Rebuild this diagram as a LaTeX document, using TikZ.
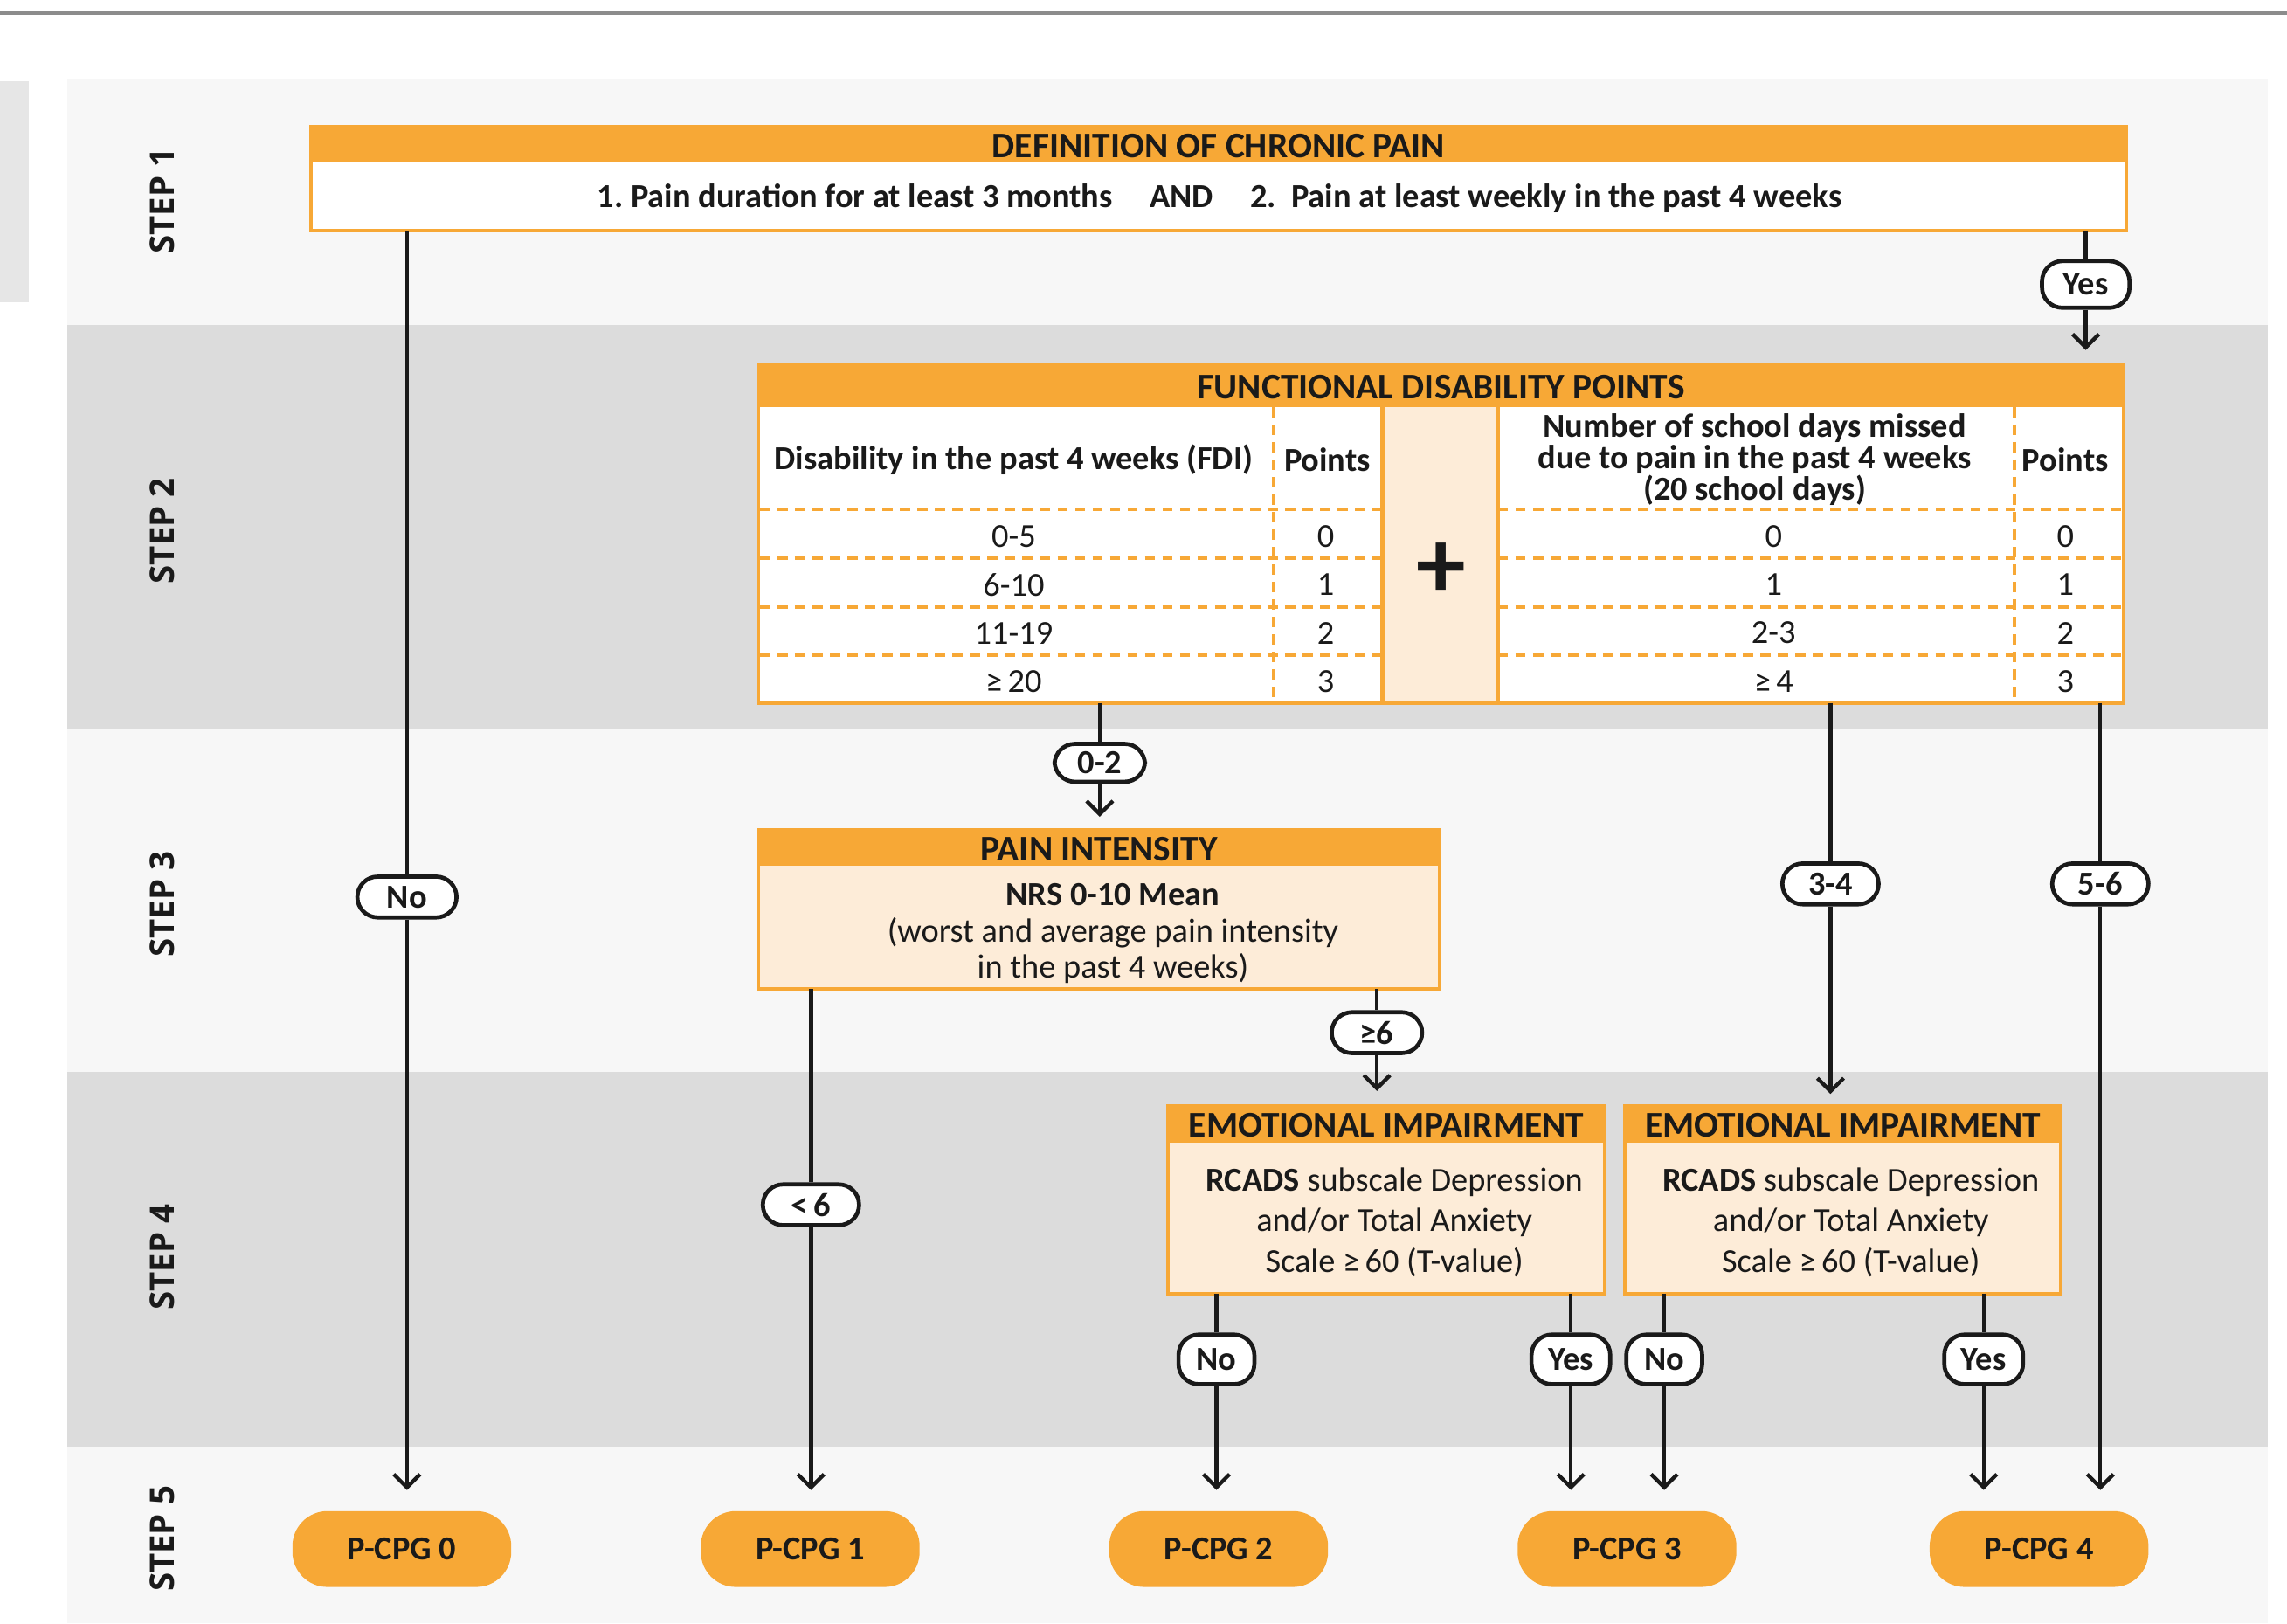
\documentclass[tikz,border=0pt]{standalone}
\usepackage{fontspec}
\setmainfont{Carlito}
\newfontfamily\stepfont{Open Sans}
\usetikzlibrary{positioning,arrows.meta}

\definecolor{cporange}{HTML}{F7A836}
\definecolor{cplight}{HTML}{FDECD8}
\definecolor{bandlight}{HTML}{F7F7F7}
\definecolor{banddark}{HTML}{DCDCDC}
\definecolor{sidegray}{HTML}{E6E6E6}
\definecolor{rulegray}{HTML}{8C8C8C}
\definecolor{ink}{HTML}{1A1A1A}

\tikzset{
    hdr/.style={fill=cporange, draw=cporange, line width=1.25pt, inner sep=0pt, outer sep=0pt,
        anchor=north, text height=9.5pt, text depth=0pt, font=\bfseries\fontsize{12.4}{13}\selectfont},
    body/.style={draw=cporange, line width=1.25pt, inner sep=0pt, outer sep=0pt},
    bodytext/.style={align=center, font=\fontsize{11.5}{14}\selectfont},
    cell/.style={font=\fontsize{11.5}{12}\selectfont},
    pill/.style={draw=ink, fill=white, line width=1.4pt, rounded corners=7pt, inner sep=0pt,
        minimum width=31pt, minimum height=14pt, font=\bfseries\fontsize{11.5}{12}\selectfont},
    cpg/.style={fill=cporange, rounded corners=12pt, minimum width=75pt, minimum height=26pt,
        font=\bfseries\fontsize{11.5}{12}\selectfont},
    flow/.style={draw=ink, line width=1.3pt},
    arr/.style={flow, -{Straight Barb[length=4.5pt,width=9pt]}},
    steplbl/.style={rotate=90, font=\stepfont\bfseries\fontsize{11.5}{12}\selectfont},
    tabdash/.style={draw=cporange, line width=1.2pt, dash pattern=on 3.5pt off 2.5pt},
}

\begin{document}
\begin{tikzpicture}[x=0.5pt,y=-0.5pt,text=ink]
    \useasboundingbox (0,0) rectangle (1568,1113);
    \draw[rulegray, line width=1pt] (0,9) -- (1568,9);
    \fill[sidegray] (0,56) rectangle (20,207);
    % bands
    \foreach \ya/\yb/\c in {54/223/bandlight, 223/500/banddark, 500/735/bandlight, 735/992/banddark, 992/1113/bandlight}
        \fill[\c] (46,\ya) rectangle (1555,\yb);
    \foreach \n/\y in {1/138, 2/364, 3/620, 4/862, 5/1055}
        \node[steplbl] (step\n) at (111,\y) {STEP \n};

    % step 1
    \node[hdr, minimum width=622.5pt, minimum height=11.5pt] (defh) at (835.5,87) {DEFINITION OF CHRONIC PAIN};
    \node[body, fill=white, minimum width=622.5pt, minimum height=24pt, below=0pt of defh] (def) {};
    \node[font=\bfseries\fontsize{11.5}{12}\selectfont] (deftx) at (836,136)
        {1.~Pain duration for at least 3 months\hspace{1.1em}AND\hspace{1.1em}2.~~Pain at least weekly in the past 4 weeks};

    % step 2
    \node[hdr, minimum width=468pt, minimum height=14pt] (fdh) at (988,250) {FUNCTIONAL DISABILITY POINTS};
    \node[body, fill=white, minimum width=468pt, minimum height=102pt, below=0pt of fdh] (fd) {};
    \fill[cplight] (948,279) rectangle (1027,481);
    \draw[cporange, line width=1.5pt] (948,278) -- (948,482) (1027,278) -- (1027,482);
    \foreach \y in {349,383,416,449}
        \draw[tabdash] (521,\y) -- (948,\y) (1027,\y) -- (1455,\y);
    \draw[tabdash] (873,279) -- (873,481) (1381,279) -- (1381,481);
    \node[cell, font=\bfseries\fontsize{11.5}{12}\selectfont] (fdihd) at (695,315) {Disability in the past 4 weeks (FDI)};
    \node[cell, font=\bfseries\fontsize{11.5}{12}\selectfont] (ptahd) at (910,315) {Points};
    \node[cell, align=center, font=\bfseries\fontsize{11.5}{10.8}\selectfont] (dayhd) at (1203,315)
        {Number of school days missed\\due to pain in the past 4 weeks\\(20 school days)};
    \node[cell, font=\bfseries\fontsize{11.5}{12}\selectfont] (ptbhd) at (1416,315) {Points};
    \foreach \fdi/\pa/\days/\pb [count=\i] in {0-5/0/0/0, 6-10/1/1/1, 11-19/2/2-3/2, {≥\,20}/3/{≥\,4}/3} {
        \node[cell] (fdi\i) at (695,335+33*\i) {\fdi};
        \node[cell] (pta\i) at (909,335+33*\i) {\pa};
        \node[cell] (day\i) at (1216,335+33*\i) {\days};
        \node[cell] (ptb\i) at (1416,335+33*\i) {\pb};
    }
    \node[font=\bfseries\fontsize{34}{34}\selectfont] (plus) at (988,391) {+};

    % step 3
    \node[hdr, minimum width=233.5pt, minimum height=11.5pt] (pih) at (753.5,569) {PAIN INTENSITY};
    \node[body, fill=cplight, minimum width=233.5pt, minimum height=43pt, below=0pt of pih] (pi) {};
    \node[bodytext, font=\fontsize{11.5}{12.5}\selectfont] (pitx) at (763,640)
        {\textbf{NRS 0-10 Mean}\\(worst and average pain intensity\\in the past 4 weeks)};

    % step 4
    \node[hdr, minimum width=149.5pt, minimum height=12pt] (ei1h) at (950.5,758) {EMOTIONAL IMPAIRMENT};
    \node[body, fill=cplight, minimum width=149.5pt, minimum height=52.5pt, below=0pt of ei1h] (ei1) {};
    \node[bodytext] (ei1tx) at (956,838) {\textbf{RCADS} subscale Depression\\and/or Total Anxiety\\Scale ≥\,60 (T-value)};
    \node[hdr, minimum width=149.5pt, minimum height=12pt] (ei2h) at (1263.5,758) {EMOTIONAL IMPAIRMENT};
    \node[body, fill=cplight, minimum width=149.5pt, minimum height=52.5pt, below=0pt of ei2h] (ei2) {};
    \node[bodytext] (ei2tx) at (1269,838) {\textbf{RCADS} subscale Depression\\and/or Total Anxiety\\Scale ≥\,60 (T-value)};

    % step 5
    \foreach \n/\x in {0/275.5, 1/555.5, 2/835.5, 3/1115.5, 4/1398}
        \node[cpg] (cpg\n) at (\x,1062) {P-CPG \n};

    % labels on the lines
    \node[pill, minimum width=34pt] (no0) at (279,615) {No};
    \node[pill, minimum width=30pt, minimum height=16pt] (yes0) at (1430,195) {Yes};
    \node[pill, minimum height=13pt] (lo) at (754,523) {0-2};
    \node[pill, minimum width=33pt] (mid) at (1255,606) {3-4};
    \node[pill, minimum width=33pt] (hi) at (1440,606) {5-6};
    \node[pill, minimum width=33pt] (pilo) at (556,826) {<\,6};
    \node[pill] (pihi) at (944,708) {≥6};
    \node[pill, minimum width=26pt, minimum height=17pt] (no1) at (834,932) {No};
    \node[pill, minimum width=27pt, minimum height=17pt] (yes1) at (1077,932) {Yes};
    \node[pill, minimum width=26pt, minimum height=17pt] (no2) at (1141,932) {No};
    \node[pill, minimum width=27pt, minimum height=17pt] (yes2) at (1360,932) {Yes};

    % connectors
    \draw[flow] (def.south -| no0) -- (no0);
    \draw[arr, shorten >=7pt] (no0) -- (no0 |- cpg0.north);
    \draw[flow] (def.south -| yes0) -- (yes0);
    \draw[arr, shorten >=5pt] (yes0) -- (yes0 |- fdh.north);
    \draw[flow] (fd.south -| lo) -- (lo);
    \draw[arr, shorten >=4.5pt] (lo) -- (lo |- pih.north);
    \draw[flow] (fd.south -| mid) -- (mid);
    \draw[arr, shorten >=4pt] (mid) -- (mid |- ei2h.north);
    \draw[flow] (fd.south -| hi) -- (hi);
    \draw[arr, shorten >=7pt] (hi) -- (hi |- cpg4.north);
    \draw[flow] (pi.south -| pilo) -- (pilo);
    \draw[arr, shorten >=7pt] (pilo) -- (pilo |- cpg1.north);
    \draw[flow] (pi.south -| pihi) -- (pihi);
    \draw[arr, shorten >=5pt] (pihi) -- (pihi |- ei1h.north);
    \draw[flow] (ei1.south -| no1) -- (no1);
    \draw[arr, shorten >=7pt] (no1) -- (no1 |- cpg2.north);
    \draw[flow] (ei1.south -| yes1) -- (yes1);
    \draw[arr, shorten >=7pt] (yes1) -- (yes1 |- cpg3.north);
    \draw[flow] (ei2.south -| no2) -- (no2);
    \draw[arr, shorten >=7pt] (no2) -- (no2 |- cpg3.north);
    \draw[flow] (ei2.south -| yes2) -- (yes2);
    \draw[arr, shorten >=7pt] (yes2) -- (yes2 |- cpg4.north);
\end{tikzpicture}
\end{document}
